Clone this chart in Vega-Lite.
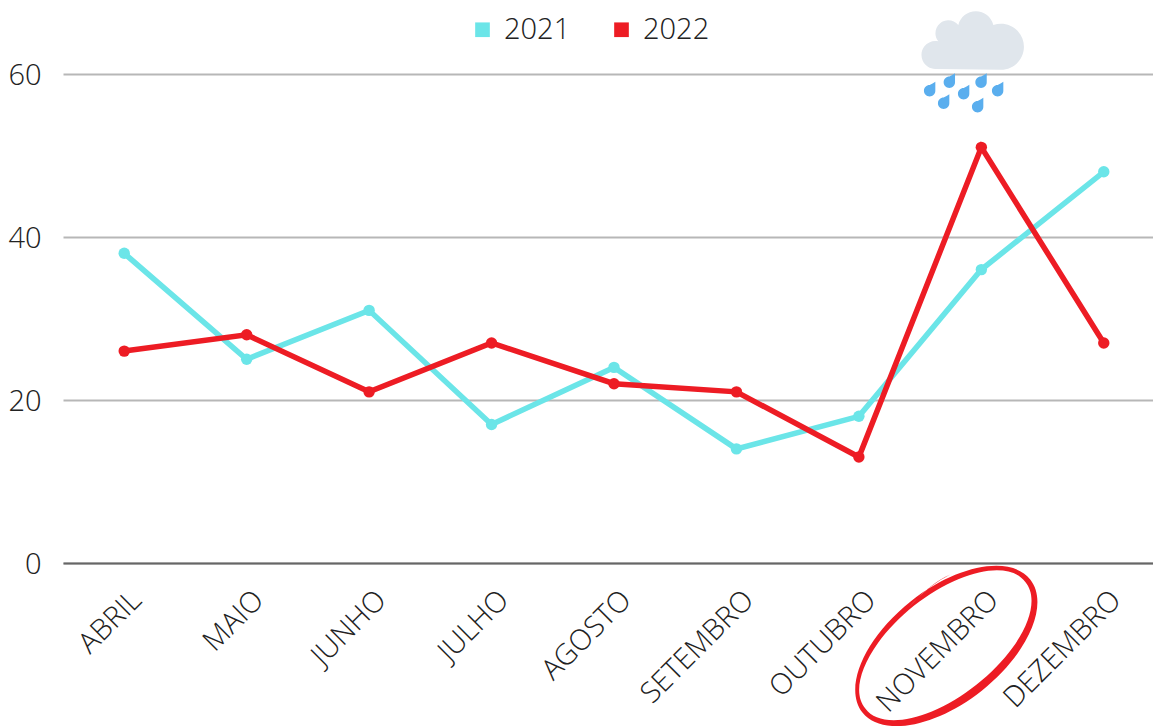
{
"$schema":"https://vega.github.io/schema/vega-lite/v6.json",
"width":1090,"height":489,
"autosize":{"type":"none"},
"padding":{"left":63,"top":74,"right":0,"bottom":163},
"background":"white",
"config":{"font":"Open Sans Light, Open Sans","view":{"stroke":null}},
"datasets":{
"series":[
{"month":"ABRIL","year":"2021","value":38},{"month":"MAIO","year":"2021","value":25},{"month":"JUNHO","year":"2021","value":31},{"month":"JULHO","year":"2021","value":17},{"month":"AGOSTO","year":"2021","value":24},{"month":"SETEMBRO","year":"2021","value":14},{"month":"OUTUBRO","year":"2021","value":18},{"month":"NOVEMBRO","year":"2021","value":36},{"month":"DEZEMBRO","year":"2021","value":48},
{"month":"ABRIL","year":"2022","value":26},{"month":"MAIO","year":"2022","value":28},{"month":"JUNHO","year":"2022","value":21},{"month":"JULHO","year":"2022","value":27},{"month":"AGOSTO","year":"2022","value":22},{"month":"SETEMBRO","year":"2022","value":21},{"month":"OUTUBRO","year":"2022","value":13},{"month":"NOVEMBRO","year":"2022","value":51},{"month":"DEZEMBRO","year":"2022","value":27}
],
"cloud":[{"month":"NOVEMBRO","value":60}],
"ring":[{"month":"NOVEMBRO","value":-10}]
},
"data":{"name":"series"},
"encoding":{
"x":{"field":"month","type":"nominal","sort":null,"scale":{"domain":["ABRIL","MAIO","JUNHO","JULHO","AGOSTO","SETEMBRO","OUTUBRO","NOVEMBRO","DEZEMBRO"],"range":[0,1102],"paddingInner":0,"paddingOuter":0,"align":0.5},
"axis":{"title":null,"labelAngle":-45,"labelAlign":"right","labelBaseline":"middle","labelFont":"Open Sans Light, Open Sans","labelFontWeight":300,"labelFontSize":29,"labelColor":"#222222","labelPadding":32,"labelOffset":12,"labelOverlap":false,"ticks":false,"domain":true,"domainColor":"#666666","domainWidth":2,"grid":false}},
"y":{"field":"value","type":"quantitative","scale":{"domain":[0,60],"nice":false,"clamp":false},
"axis":{"title":null,"values":[0,20,40,60],"labelFont":"Open Sans Light, Open Sans","labelFontWeight":300,"labelFontSize":29,"labelColor":"#222222","labelPadding":22,"labelOffset":1,"ticks":false,"domain":false,"grid":true,"gridColor":"#b7b7b7","gridWidth":2}}
},
"layer":[
{"mark":{"type":"line","strokeWidth":5.5},
 "encoding":{"color":{"field":"year","type":"nominal","scale":{"domain":["2021","2022"],"range":["#6be5e8","#ed1c24"]},
 "legend":{"title":null,"orient":"none","legendX":405,"legendY":-59,"direction":"horizontal","symbolType":"square","symbolSize":215,"symbolStrokeWidth":0,"labelFont":"Open Sans Light, Open Sans","labelFontWeight":300,"labelFontSize":29,"labelColor":"#222222","labelOffset":7,"columnPadding":36,"symbolOpacity":1}}}},
{"mark":{"type":"point","filled":true,"size":130,"opacity":1},
 "encoding":{"color":{"field":"year","type":"nominal","legend":null}}},
{"data":{"name":"cloud"},
 "mark":{"type":"point","filled":true,"opacity":1,"size":4,"color":"#e0e6ec","shape":"M-46 -5A14 14 0 1 1 -43 -32.7A12.5 12.5 0 0 1 -23 -49A18 18 0 0 1 12 -49A23 23 0 1 1 19 -4.3Z"}},
{"data":{"name":"cloud"},
 "mark":{"type":"point","filled":true,"opacity":1,"size":4,"color":"#5aaeee","shape":"M-46 7.7l0 9a5.7 5.7 0 1 1 -5.7 -5.7q3 -1.3 5.7 -3.3zM-26.3 -0.7l0 9a5.7 5.7 0 1 1 -5.7 -5.7q3 -1.3 5.7 -3.3zM5.4 -0.7l0 9a5.7 5.7 0 1 1 -5.7 -5.7q3 -1.3 5.7 -3.3zM22 7.7l0 9a5.7 5.7 0 1 1 -5.7 -5.7q3 -1.3 5.7 -3.3zM-12 10.7l0 9a5.7 5.7 0 1 1 -5.7 -5.7q3 -1.3 5.7 -3.3zM-32 20.3l0 9a5.7 5.7 0 1 1 -5.7 -5.7q3 -1.3 5.7 -3.3zM2 23.7l0 9a5.7 5.7 0 1 1 -5.7 -5.7q3 -1.3 5.7 -3.3z"}},
{"data":{"name":"ring"},
 "mark":{"type":"point","filled":true,"opacity":1,"size":4,"color":"#ed1c24","clip":false,"shape":"M48.9 -65A107 57 -38.4 1 1 -118.9 68A107 57 -38.4 1 1 48.9 -65ZM44 -62.5A102 49.5 -38.4 1 0 -116 64A102 49.5 -38.4 1 0 44 -62.5ZM-73 -37Q-52 -60 -31 -70Q-50 -62 -73 -37Z"}}
]
}
